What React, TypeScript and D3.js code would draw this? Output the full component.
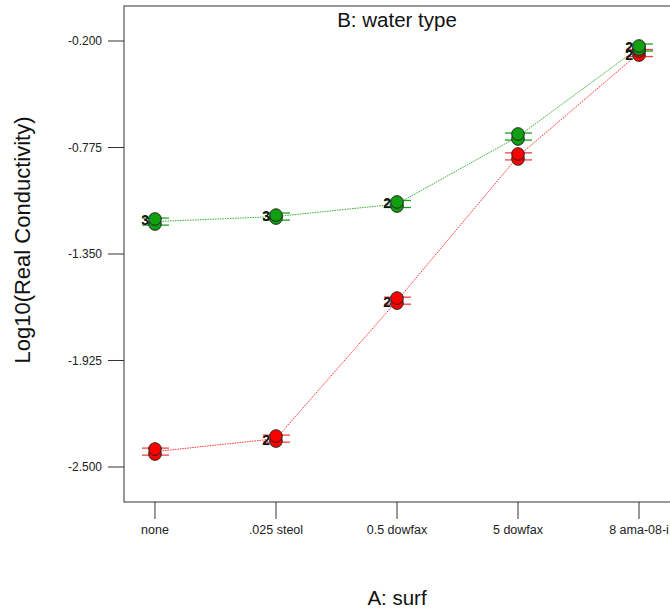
import React from "react";
import * as d3 from "d3";

const categories = ["none", ".025 steol", "0.5 dowfax", "5 dowfax", "8 ama-08-i"];
const yTicks = [-0.2, -0.775, -1.35, -1.925, -2.5];

// observed design points per level (two distinct positions), red series = water type 1
const redObs = [
  [-2.43, -2.403],
  [-2.36, -2.333],
  [-1.615, -1.588],
  [-0.837, -0.81],
  [-0.276, -0.254],
];
const redCounts = ["", "2", "2", "", "2"];
const redMeans = [-2.417, -2.347, -1.602, -0.823, -0.265];

const greenObs = [
  [-1.188, -1.161],
  [-1.156, -1.14],
  [-1.091, -1.069],
  [-0.729, -0.702],
  [-0.243, -0.227],
];
const greenCounts = ["3", "3", "2", "", "2"];
const greenMeans = [-1.175, -1.148, -1.08, -0.716, -0.235];

const lsdHalf = 0.019;

const W = 670;
const H = 610;
const left = 124;
const right = 670;
const top = 6;
const bottom = 502;

export default function App() {
  const x = d3.scalePoint<string>().domain(categories).range([left, right]).padding(0.256);
  const y = d3.scaleLinear().domain([-2.689, -0.011]).range([bottom, top]);
  const fmt = (v: number) => d3.format(".3f")(v).replace("\u2212", "-");

  const series = [
    { obs: redObs, counts: redCounts, means: redMeans, fill: "#ff0000", line: "#ff3030", cap: "#ff4040", dy: "0.65em" },
    { obs: greenObs, counts: greenCounts, means: greenMeans, fill: "#10a010", line: "#30b030", cap: "#20a020", dy: "0.45em" },
  ];

  const lineGen = d3
    .line<number>()
    .x((_, i) => x(categories[i]) as number)
    .y((d) => y(d));

  return (
    <svg width={W} height={H} style={{ position: "absolute", left: 0, top: 0, fontFamily: "Arial, 'Liberation Sans', sans-serif" }}>
      <rect x={0} y={0} width={W} height={H} fill="#fff" />
      <rect x={left} y={top} width={right - left + 5} height={bottom - top} fill="none" stroke="#333" strokeWidth={1} />
      {yTicks.map((t) => (
        <g key={t}>
          <line x1={108} x2={left} y1={y(t)} y2={y(t)} stroke="#333" />
          <text x={102} y={y(t)} dy="0.35em" textAnchor="end" fontSize={12} fill="#222">
            {fmt(t)}
          </text>
        </g>
      ))}
      {categories.map((c) => (
        <g key={c}>
          <line x1={x(c)} x2={x(c)} y1={bottom} y2={519} stroke="#333" />
          <text x={x(c)} y={534} textAnchor="middle" fontSize={12.5} fill="#222">
            {c}
          </text>
        </g>
      ))}
      <text x={397} y={27} textAnchor="middle" fontSize={20.5} fill="#111">
        B: water type
      </text>
      <text x={397} y={605} textAnchor="middle" fontSize={20.5} fill="#111">
        A: surf
      </text>
      <text transform={`translate(30,240) rotate(-90)`} textAnchor="middle" fontSize={22} fill="#111">
        Log10(Real Conductivity)
      </text>
      {series.map((s, si) => (
        <path key={"l" + si} d={lineGen(s.means) || ""} fill="none" stroke={s.line} strokeWidth={1} strokeDasharray="1.5,1" />
      ))}
      {series.map((s, si) =>
        s.means.map((m, i) => {
          const cx = x(categories[i]) as number;
          return (
            <g key={"c" + si + i}>
              <line x1={cx} x2={cx} y1={y(m - lsdHalf)} y2={y(m + lsdHalf)} stroke={s.cap} />
              <line x1={cx - 13} x2={cx + 14} y1={y(m + lsdHalf)} y2={y(m + lsdHalf)} stroke={s.cap} strokeWidth={1.3} />
              <line x1={cx - 13} x2={cx + 14} y1={y(m - lsdHalf)} y2={y(m - lsdHalf)} stroke={s.cap} strokeWidth={1.3} />
            </g>
          );
        })
      )}
      {series.map((s, si) =>
        s.obs.map((vals, i) => {
          const cx = x(categories[i]) as number;
          return (
            <g key={"p" + si + i}>
              {vals.map((v, k) => (
                <circle key={k} cx={cx} cy={y(v)} r={6.3} fill={s.fill} stroke="#222" strokeWidth={1} />
              ))}
              {s.counts[i] && (
                <text x={cx - 6} y={y(vals[1])} dy={s.dy} textAnchor="end" fontSize={14} fontWeight="bold" fill="#111">
                  {s.counts[i]}
                </text>
              )}
            </g>
          );
        })
      )}
    </svg>
  );
}
